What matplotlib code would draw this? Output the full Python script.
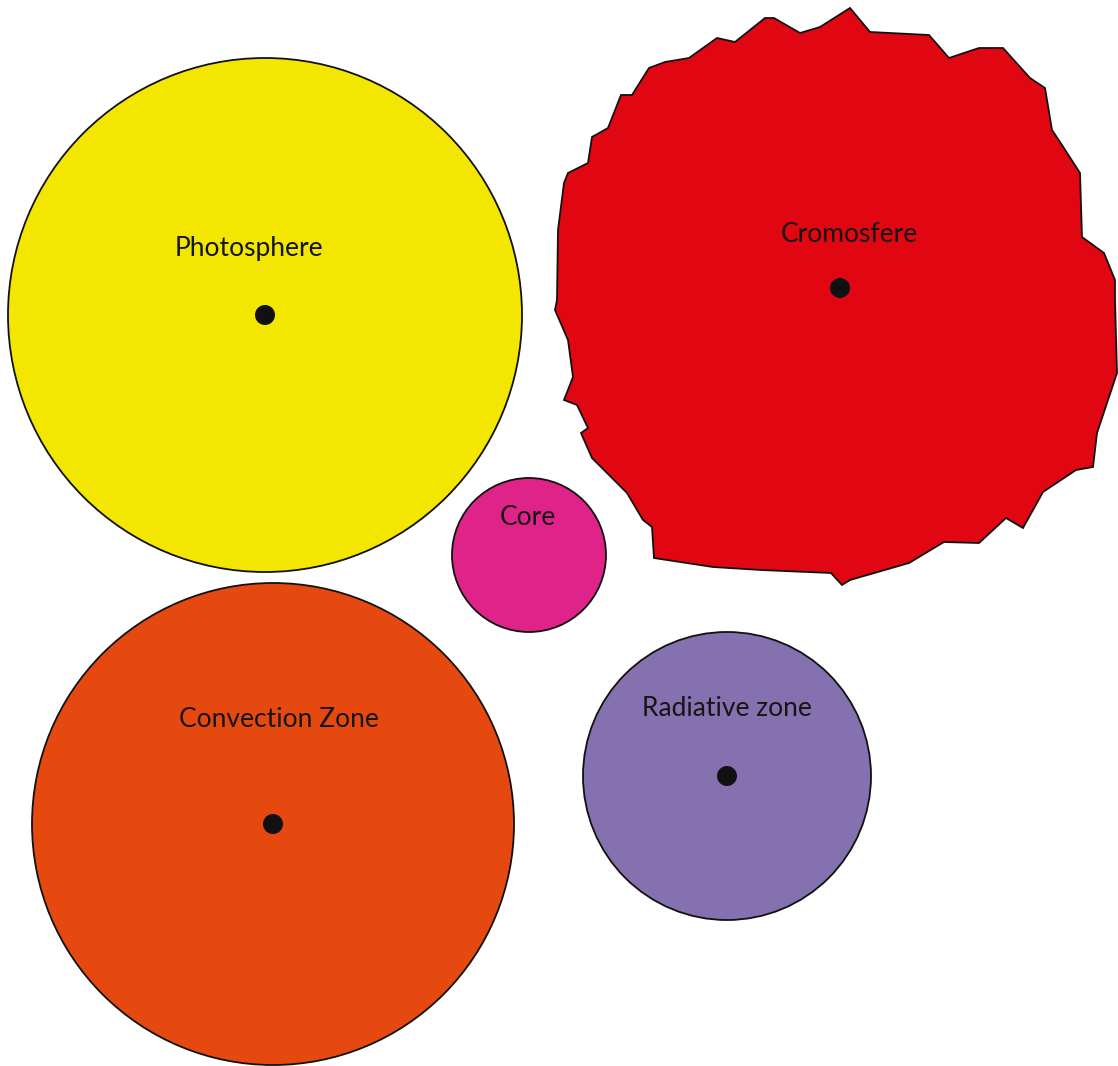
import matplotlib
matplotlib.use("Agg")
import matplotlib.pyplot as plt
from matplotlib.patches import Circle, Polygon

# ---- data ----
names = ["Photosphere", "Cromosfere", "Core", "Convection Zone", "Radiative zone"]
radii = [257, 280, 77, 241, 144]
colors = ["#F3E600", "#E00713", "#DF2389", "#E5490F", "#8570B0"]
has_dot = [True, True, False, True, True]

# layout (pixel space)
cx = [265, 840, 529, 273, 727]
cy = [315, 288, 555, 824, 776]
label_x = [249, 849, 528, 279, 727]
label_y = [256, 242, 525, 727, 716]

# jagged outline of the Cromosfere
crom_x = [564, 568, 588, 592, 608, 621, 632, 649, 665, 689, 717, 735, 765, 774,
          800, 820, 850, 870, 929, 949, 979, 1003, 1030, 1045, 1052, 1060, 1080,
          1082, 1104, 1115, 1115, 1117, 1108, 1097, 1093, 1076, 1043, 1023, 1006,
          979, 944, 909, 850, 842, 831, 761, 713, 654, 652, 643, 627, 606, 592,
          581, 588, 577, 564, 573, 568, 555, 557, 558]
crom_y = [183, 173, 163, 137, 128, 95, 95, 68, 62, 58, 38, 42, 18, 18,
          33, 27, 8, 32, 35, 58, 48, 48, 78, 88, 130, 142, 173,
          237, 253, 280, 300, 373, 400, 433, 467, 470, 492, 528, 518,
          543, 542, 563, 580, 585, 573, 570, 567, 558, 527, 520, 493, 472, 458,
          433, 428, 405, 400, 377, 340, 310, 300, 230]

W, H = 1118, 1066
fig = plt.figure(figsize=(W / 100, H / 100), dpi=100)
ax = fig.add_axes([0, 0, 1, 1])
ax.set_xlim(0, W)
ax.set_ylim(H, 0)
ax.set_aspect("equal")
ax.axis("off")

font = dict(family=["Lato", "DejaVu Sans"], fontweight="normal", fontsize=19, color="#151515")

for i, name in enumerate(names):
    if name == "Cromosfere":
        patch = Polygon(list(zip(crom_x, crom_y)), closed=True,
                        facecolor=colors[i], edgecolor="#111111", lw=1.3)
    else:
        patch = Circle((cx[i], cy[i]), radii[i], facecolor=colors[i],
                       edgecolor="#111111", lw=1.3)
    ax.add_patch(patch)
    if has_dot[i]:
        ax.add_patch(Circle((cx[i], cy[i]), 10, facecolor="#111111", edgecolor="none"))
    ax.text(label_x[i], label_y[i], name, ha="center", va="baseline", **font)

fig.savefig("out.png", dpi=100, facecolor="white")
